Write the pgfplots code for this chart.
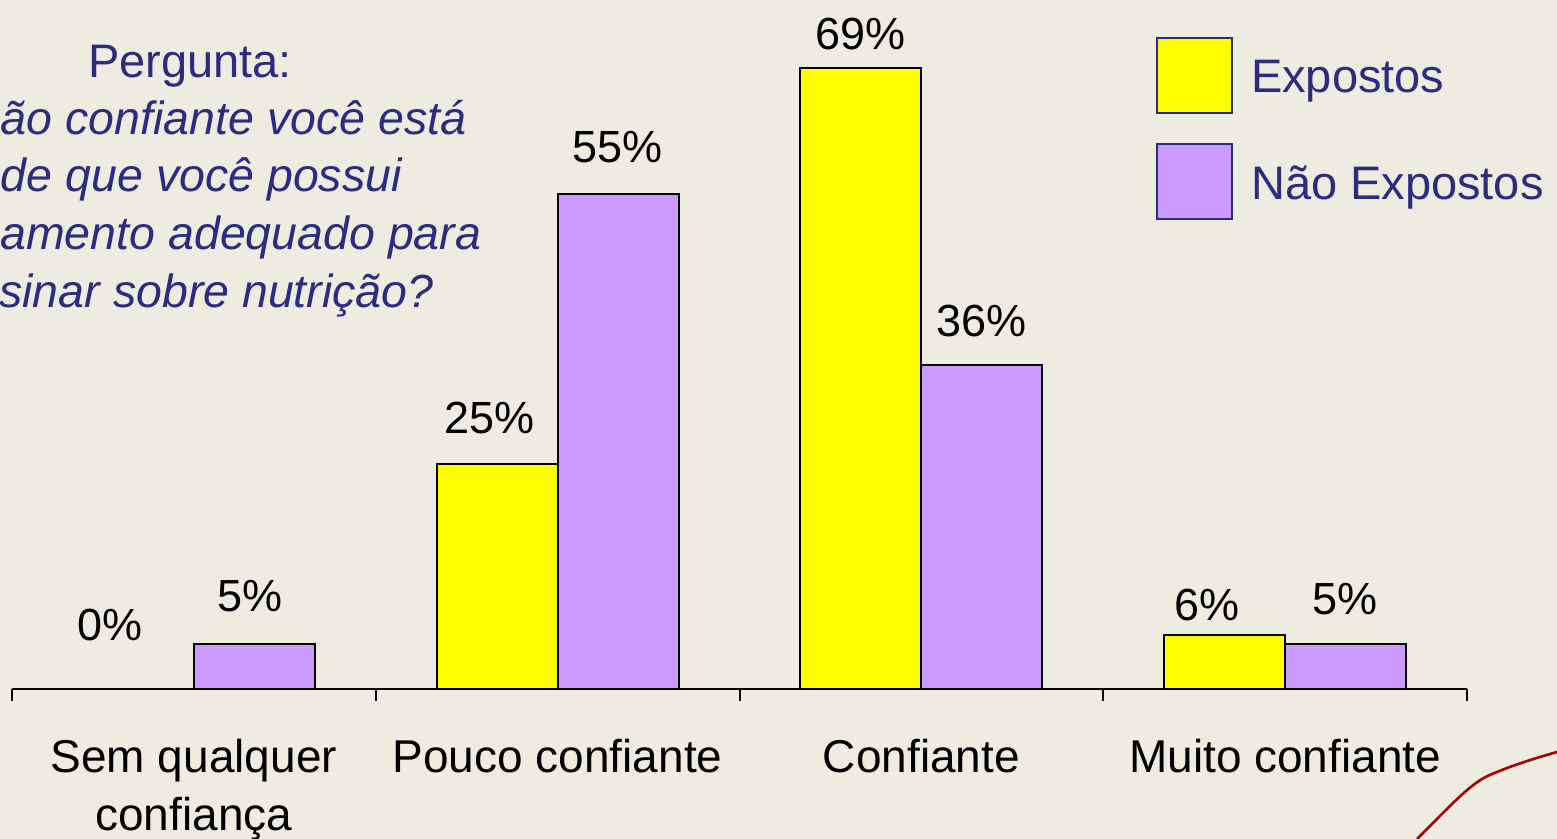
\documentclass[border=0pt]{standalone}
\usepackage{pgfplots}
\pgfplotsset{compat=1.18}
\usepackage{pgfplotstable}
\usepackage{fontspec}
\setmainfont{Liberation Sans}
\definecolor{bg}{HTML}{EEEBE0}
\definecolor{navy}{HTML}{2B2B80}
\definecolor{lav}{HTML}{CC99FF}
\definecolor{yel}{HTML}{FFFF00}

\pgfplotstableread{
x y dx dy
0 0 -11.5 32
1 25 -4 23
2 69 0 17
3 6 -9 15
}\expostos
\pgfplotstableread{
x y dx dy
0 5 -2 24
1 55 -0.5 23.5
2 36 0 22
3 5 -0.5 22.5
}\naoexpostos

\pgfplotsset{mylegend/.style={legend image code/.code={\draw[#1,draw=navy,line width=1pt] (0pt,-17.5pt) rectangle (37.5pt,20pt);}}}

\begin{document}
\begin{tikzpicture}
\useasboundingbox (0,0) rectangle (778.5pt,-419.5pt);
\clip (0,0) rectangle (778.5pt,-419.5pt);
\fill[bg] (0,0) rectangle (778.5pt,-419.5pt);
\draw[red!65!black, line width=1.3pt] (708.5pt,-419.5pt) .. controls (728pt,-400pt) and (736pt,-391pt) .. (746pt,-387pt) .. controls (758pt,-382pt) and (768pt,-379pt) .. (778.5pt,-376pt);
\begin{scope}[every node/.style={anchor=base west, text=navy, inner sep=0pt, font=\fontsize{23.25}{28}\selectfont\itshape}]
\node[anchor=base, font=\fontsize{23.5}{28}\selectfont] at (95pt,-39pt) {Pergunta:};
\node at (0.3pt,-67.5pt) {ão confiante você está};
\node at (0.3pt,-96pt) {de que você possui};
\node at (0pt,-125pt) {amento adequado para};
\node at (-0.5pt,-154pt) {sinar sobre nutrição?};
\end{scope}
\begin{axis}[
  at={(6pt,-344.5pt)}, anchor=south west,
  scale only axis, width=727.5pt, height=337.5pt,
  xmin=-0.5, xmax=3.5, ymin=0, ymax=75,
  axis x line=bottom, axis y line=none,
  axis line style={-, line width=1pt, black},
  ybar=0pt, bar width=60.5pt,
  xtick={0,1,2,3},
  xticklabels={{Sem qualquer\\confiança},{Pouco confiante},{Confiante},{Muito confiante}},
  major x tick style={draw=none},
  minor xtick={-0.5,0.5,1.5,2.5,3.5},
  minor tick length=6pt, tick align=outside,
  minor x tick style={line width=1pt, black},
  xticklabel style={font=\fontsize{23}{29}\selectfont, align=center, yshift=-17.5pt, text=black},
  clip=false,
  /pgf/number format/assume math mode=true,
  visualization depends on={\thisrow{dx} \as \dx},
  visualization depends on={\thisrow{dy} \as \dy},
  nodes near coords={\pgfmathprintnumber{\pgfplotspointmeta}\%},
  nodes near coords style={anchor=center, xshift=\dx pt, yshift=\dy pt, font=\fontsize{22.5}{27}\selectfont, text=black},
  legend style={draw=none, fill=none, inner sep=0pt, outer sep=0pt,
    at={(0.7863,0.966)}, anchor=north west, row sep=14.5pt, column sep=9pt,
    font=\fontsize{23.5}{28}\selectfont, text=navy, nodes={inner sep=0pt}},
  legend cell align=left,
]
\addplot[fill=yel, draw=black, line width=1pt, mylegend] table[x=x,y=y] {\expostos};
\addplot[fill=lav, draw=black, line width=1pt, mylegend] table[x=x,y=y] {\naoexpostos};
\legend{Expostos, Não Expostos}
\end{axis}
\end{tikzpicture}
\end{document}
